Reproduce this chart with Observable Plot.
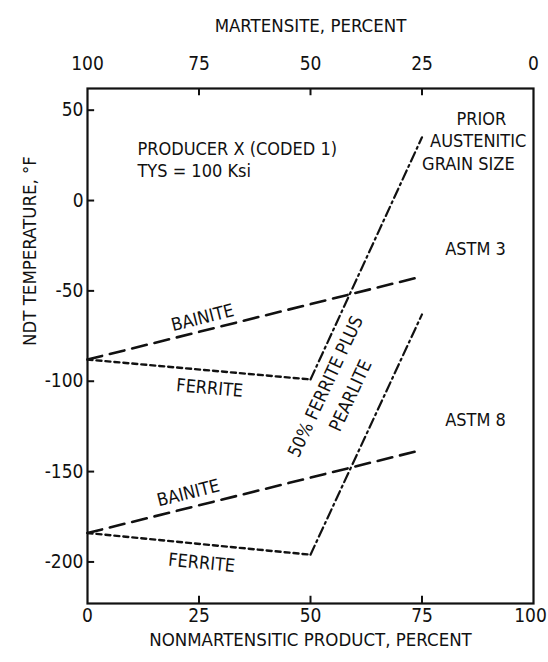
<!DOCTYPE html>
<html>
<head>
<meta charset="utf-8">
<script src="https://cdn.jsdelivr.net/npm/d3@7"></script>
<script src="https://cdn.jsdelivr.net/npm/@observablehq/plot@0.6"></script>
<style>
  html, body { margin: 0; padding: 0; background: #fff; }
  #chart svg { font-family: "Liberation Sans Narrow", "DejaVu Sans Condensed", sans-serif; }
</style>
</head>
<body>
<div id="chart"></div>
<script>
// ---- data ----
const bainiteX = [0, 75];
const astm3Bainite = [-88, -42];
const astm8Bainite = [-184, -138];
const ferriteX = [0, 50];
const astm3Ferrite = [-88, -99];
const astm8Ferrite = [-184, -196];
const pearliteX = [50, 75];
const astm3Pearlite = [-99, 35];
const astm8Pearlite = [-196, -63];

const xTicks = [0, 25, 50, 75, 100];
const yTicks = [50, 0, -50, -100, -150, -200];
const innerXTicks = [25, 50, 75];

const xTitle = "NONMARTENSITIC PRODUCT, PERCENT";
const topTitle = "MARTENSITE, PERCENT";
const yTitle = "NDT TEMPERATURE, \u00B0F";

// annotations
const leftNotes = [
  {x: 11.2, y: 28.3, t: "PRODUCER X (CODED 1)"},
  {x: 11.2, y: 16.1, t: "TYS = 100 Ksi"}
];
const notes = [
  {x: 88.3, y: 45, t: "PRIOR", r: 0},
  {x: 87.6, y: 32.8, t: "AUSTENITIC", r: 0},
  {x: 85.4, y: 20, t: "GRAIN SIZE", r: 0},
  {x: 87, y: -27, t: "ASTM 3", r: 0},
  {x: 87, y: -121.7, t: "ASTM 8", r: 0},
  {x: 25.8, y: -65, t: "BAINITE", r: -14},
  {x: 27.4, y: -103.9, t: "FERRITE", r: 5},
  {x: 22.6, y: -162, t: "BAINITE", r: -14},
  {x: 25.6, y: -200.6, t: "FERRITE", r: 5.5},
  {x: 53.4, y: -103, t: "50% FERRITE PLUS", r: -65},
  {x: 59, y: -108, t: "PEARLITE", r: -65}
];

const seg = (xs, ys) => xs.map((x, i) => ({x, y: ys[i]}));

const Y0 = -223, Y1 = 62;

const chart = Plot.plot({
  width: 548,
  height: 662,
  marginLeft: 87,
  marginRight: 15,
  marginTop: 88,
  marginBottom: 59,
  style: {fontSize: "18px", color: "#111", background: "#fff"},
  x: {domain: [0, 100]},
  y: {domain: [Y0, Y1]},
  marks: [
    Plot.frame({stroke: "#111", strokeWidth: 2.2}),
    // tick marks (inward)
    Plot.ruleX(innerXTicks, {y1: Y0, y2: Y0 + 4, stroke: "#111", strokeWidth: 2}),
    Plot.ruleX(innerXTicks, {y1: Y1, y2: Y1 - 4, stroke: "#111", strokeWidth: 2}),
    Plot.ruleY(yTicks, {x1: 0, x2: 1.6, stroke: "#111", strokeWidth: 2}),
    // axes
    Plot.axisX(xTicks.slice(0, 4), {anchor: "bottom", tickSize: 0, tickPadding: 5, label: null, fontSize: 19}),
    Plot.axisX(xTicks.slice(4), {anchor: "bottom", tickSize: 0, tickPadding: 5, label: null, fontSize: 19, dx: -3}),
    Plot.axisX(xTicks, {anchor: "top", tickSize: 0, tickPadding: 19, label: null, fontSize: 19, tickFormat: d => String(100 - d)}),
    Plot.axisY(yTicks, {anchor: "left", tickSize: 0, tickPadding: 4, label: null, fontSize: 19, tickFormat: d => d < 0 ? "-" + Math.abs(d) : String(d)}),
    // titles
    Plot.text([xTitle], {frameAnchor: "bottom", dy: 42, text: d => d, fontSize: 18.5}),
    Plot.text([topTitle], {frameAnchor: "top", dy: -70, text: d => d, fontSize: 18.5}),
    Plot.text([yTitle], {frameAnchor: "left", dx: -57, rotate: -90, text: d => d, fontSize: 18.5}),
    // lines
    Plot.line(seg(bainiteX, astm3Bainite), {x: "x", y: "y", stroke: "#111", strokeWidth: 2.6, strokeDasharray: "15,8"}),
    Plot.line(seg(bainiteX, astm8Bainite), {x: "x", y: "y", stroke: "#111", strokeWidth: 2.6, strokeDasharray: "15,8"}),
    Plot.line(seg(ferriteX, astm3Ferrite), {x: "x", y: "y", stroke: "#111", strokeWidth: 2.4, strokeDasharray: "5,4"}),
    Plot.line(seg(ferriteX, astm8Ferrite), {x: "x", y: "y", stroke: "#111", strokeWidth: 2.4, strokeDasharray: "5,4"}),
    Plot.line(seg(pearliteX, astm3Pearlite), {x: "x", y: "y", stroke: "#111", strokeWidth: 2.2, strokeDasharray: "10,4,2,4"}),
    Plot.line(seg(pearliteX, astm8Pearlite), {x: "x", y: "y", stroke: "#111", strokeWidth: 2.2, strokeDasharray: "10,4,2,4"}),
    // annotations
    Plot.text(leftNotes, {x: "x", y: "y", text: "t", textAnchor: "start", fontSize: 18, fill: "#111"}),
    Plot.text(notes, {x: "x", y: "y", text: "t", rotate: "r", fontSize: 18, fill: "#111"})
  ]
});
document.getElementById("chart").appendChild(chart);
</script>
</body>
</html>
